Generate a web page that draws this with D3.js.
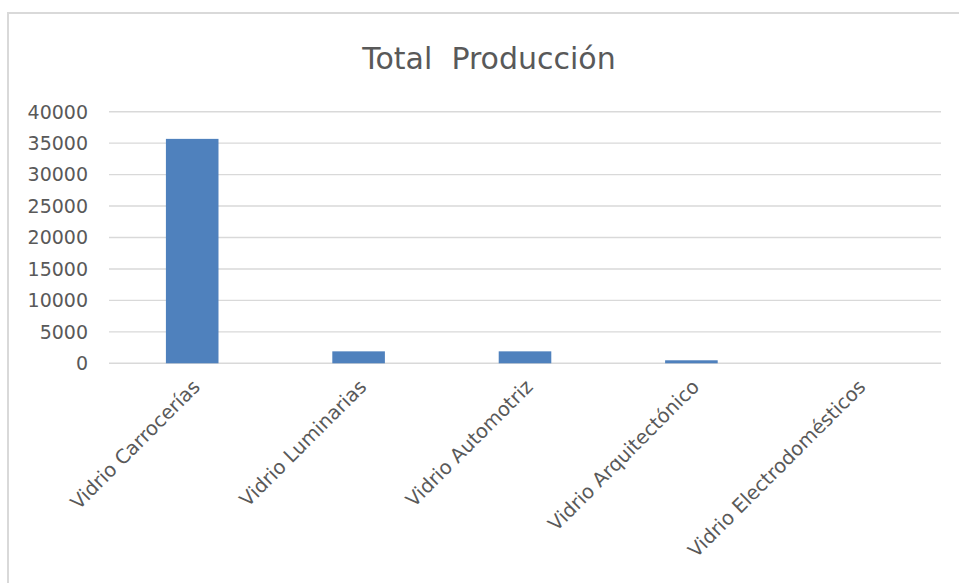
<!DOCTYPE html>
<html>
<head>
<meta charset="utf-8">
<script src="https://cdn.jsdelivr.net/npm/d3@7"></script>
<style>
  body { margin: 0; background: #fff; }
  svg text { font-family: "DejaVu Sans", sans-serif; }
</style>
</head>
<body>
<svg id="chart" width="959" height="583"></svg>
<script>
const categories = ["Vidrio Carrocerías", "Vidrio Luminarias", "Vidrio Automotriz", "Vidrio Arquitectónico", "Vidrio Electrodomésticos"];
const values = [35680, 1900, 1900, 480, 0];
const yTicks = [0, 5000, 10000, 15000, 20000, 25000, 30000, 35000, 40000];

const svg = d3.select("#chart");

// chart frame (only top and left edges fall inside the picture)
svg.append("rect")
  .attr("x", 8).attr("y", 13)
  .attr("width", 1000).attr("height", 700)
  .attr("fill", "#fff")
  .attr("stroke", "#d9d9d9")
  .attr("stroke-width", 2);

const x = d3.scaleBand()
  .domain(categories)
  .range([109, 941])
  .padding(0);

const y = d3.scaleLinear()
  .domain([0, 40000])
  .range([363.3, 111.7]);

// gridlines
svg.append("g")
  .selectAll("line")
  .data(yTicks)
  .join("line")
    .attr("x1", 109).attr("x2", 941)
    .attr("y1", d => y(d)).attr("y2", d => y(d))
    .attr("stroke", "#d9d9d9")
    .attr("stroke-width", 1.4);

// y tick labels
svg.append("g")
  .selectAll("text")
  .data(yTicks)
  .join("text")
    .attr("x", 88)
    .attr("y", d => y(d))
    .attr("dy", "0.36em")
    .attr("text-anchor", "end")
    .attr("font-size", 19)
    .attr("fill", "#595959")
    .text(d => d);

// bars
const barW = x.bandwidth() * 0.316;
svg.append("g")
  .selectAll("rect")
  .data(values)
  .join("rect")
    .attr("x", (d, i) => x(categories[i]) + x.bandwidth() / 2 - barW / 2)
    .attr("y", d => y(d))
    .attr("width", barW)
    .attr("height", d => y(0) - y(d))
    .attr("fill", "#4f81bd");

// category labels, rotated
svg.append("g")
  .selectAll("text")
  .data(categories)
  .join("text")
    .attr("transform", d => "translate(" + (x(d) + x.bandwidth() / 2 + 9) + ",388) rotate(-45)")
    .attr("text-anchor", "end")
    .attr("font-size", 19.5)
    .attr("fill", "#595959")
    .text(d => d);

// title
svg.append("text")
  .attr("x", 489)
  .attr("y", 69)
  .attr("text-anchor", "middle")
  .attr("font-size", 30)
  .attr("fill", "#595959")
  .attr("xml:space", "preserve")
  .style("white-space", "pre")
  .text("Total  Producción");
</script>
</body>
</html>
